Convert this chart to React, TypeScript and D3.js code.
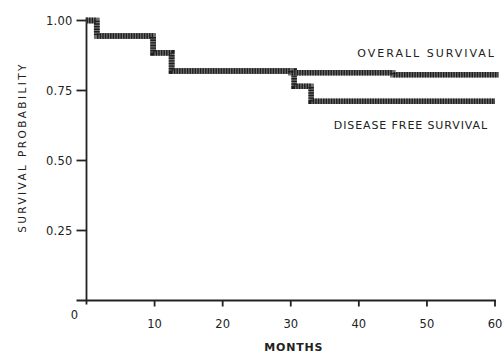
import React from 'react';
import * as d3 from 'd3';

// Kaplan-Meier steps (months, probability)
const overallMonths = [0, 1.5, 9.8, 12.5, 30, 45, 60.5];
const overallSurv = [1.0, 0.945, 0.885, 0.82, 0.813, 0.806, 0.806];
const dfsMonths = [0, 1.5, 9.8, 12.5, 30.5, 33, 60];
const dfsSurv = [1.0, 0.945, 0.885, 0.82, 0.765, 0.712, 0.712];

const xTicks = [10, 20, 30, 40, 50, 60];
const yTicks = [0.25, 0.5, 0.75, 1.0];

const W = 504;
const H = 354;
const margin = { top: 20.5, right: 9, bottom: 53.5, left: 86.5 };
const ink = '#222';
const font = '"DejaVu Sans", Verdana, sans-serif';

export default function App() {
  const x = d3.scaleLinear().domain([0, 60]).range([margin.left, W - margin.right]);
  const y = d3.scaleLinear().domain([0, 1]).range([H - margin.bottom, margin.top]);

  const line = d3.line<[number, number]>()
    .x(d => x(d[0]))
    .y(d => y(d[1]))
    .curve(d3.curveStepAfter);

  const overall = line(overallMonths.map((m, i) => [m, overallSurv[i]] as [number, number])) || '';
  const dfs = line(dfsMonths.map((m, i) => [m, dfsSurv[i]] as [number, number])) || '';

  const x0 = x(0);
  const y0 = y(0);

  const curve = (d: string, key: string) => (
    <g key={key}>
      <path d={d} fill="none" stroke="#707070" strokeWidth={5.5} />
      <path d={d} fill="none" stroke="#1e1e1e" strokeWidth={5.5} strokeDasharray="1.4 1.2" />
    </g>
  );

  return (
    <svg width={W} height={H} style={{ position: 'absolute', left: 0, top: 0, background: '#fff' }}
      fontFamily={font} fill={ink}>
      {/* axes */}
      <line x1={x0} x2={x0} y1={y(1) - 3} y2={y0 + 4} stroke={ink} strokeWidth={1.8} />
      <line x1={x0 - 10} x2={x(60) + 1} y1={y0} y2={y0} stroke={ink} strokeWidth={1.8} />
      {yTicks.map(t => (
        <g key={t}>
          <line x1={x0 - 10} x2={x0} y1={y(t)} y2={y(t)} stroke={ink} strokeWidth={1.8} />
          <text x={x0 - 14} y={y(t) + 4} textAnchor="end" fontSize={11.5} letterSpacing={0.2}>
            {t.toFixed(2)}
          </text>
        </g>
      ))}
      {xTicks.map(t => (
        <g key={t}>
          <line x1={x(t)} x2={x(t)} y1={y0} y2={y0 + 6} stroke={ink} strokeWidth={1.8} />
          <text x={x(t)} y={y0 + 27} textAnchor="middle" fontSize={11.5}>{t}</text>
        </g>
      ))}
      <text x={x0 - 12} y={y0 + 18} textAnchor="middle" fontSize={11.5}>0</text>

      {/* axis titles */}
      <text x={x(30) + 3} y={H - 3} textAnchor="middle" fontSize={11} fontWeight="bold" letterSpacing={0.8}>
        MONTHS
      </text>
      <text transform={`translate(26,${(y(1) + y0) / 2 - 13}) rotate(-90)`} textAnchor="middle"
        fontSize={10.5} letterSpacing={2.4}>
        SURVIVAL  PROBABILITY
      </text>

      {/* curves */}
      {curve(dfs, 'dfs')}
      {curve(overall, 'os')}

      {/* labels */}
      <text x={W - 8} y={57} textAnchor="end" fontSize={11} letterSpacing={2}>OVERALL  SURVIVAL</text>
      <text x={W - 16} y={129} textAnchor="end" fontSize={11} letterSpacing={0.9}>DISEASE FREE SURVIVAL</text>
    </svg>
  );
}
